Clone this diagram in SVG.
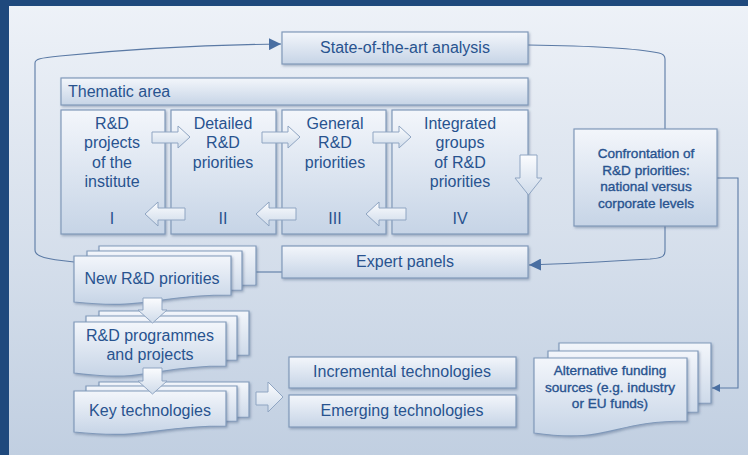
<svg xmlns="http://www.w3.org/2000/svg" width="748" height="455" viewBox="0 0 748 455">
<defs>
<linearGradient id="bg" x1="0" y1="0" x2="0" y2="1">
<stop offset="0" stop-color="#eef2f8"/>
<stop offset="1" stop-color="#c1cfe1"/>
</linearGradient>
<linearGradient id="box" x1="0" y1="0" x2="0" y2="1">
<stop offset="0" stop-color="#f3f6fb"/>
<stop offset="1" stop-color="#c6d4e6"/>
</linearGradient>
<linearGradient id="arr" x1="0" y1="0" x2="0" y2="1">
<stop offset="0" stop-color="#fbfcfe"/>
<stop offset="1" stop-color="#cfdbea"/>
</linearGradient>
<filter id="sh" x="-10%" y="-10%" width="130%" height="130%">
<feDropShadow dx="1.2" dy="1.5" stdDeviation="1" flood-color="#4d6688" flood-opacity="0.45"/>
</filter>
<marker id="ah" viewBox="0 0 10 10" refX="10" refY="5" markerWidth="12" markerHeight="12" markerUnits="userSpaceOnUse" orient="auto">
<path d="M0,0 L10,5 L0,10 Z" fill="#4a6fa2"/>
</marker>
<marker id="ahs" viewBox="0 0 10 10" refX="10" refY="5" markerWidth="8" markerHeight="8" markerUnits="userSpaceOnUse" orient="auto">
<path d="M0,0 L10,5 L0,10 Z" fill="#4a6fa2"/>
</marker>
</defs>
<style>
.bx{fill:url(#box);stroke:#8099ba;stroke-width:1.2;filter:url(#sh)}
.ar{fill:url(#arr);stroke:#8fa5c2;stroke-width:1}
.t{font-family:"Liberation Sans",Arial,sans-serif;font-size:16px;fill:#28538f}
.s{font-family:"Liberation Sans",Arial,sans-serif;font-size:13.6px;fill:#28538f;stroke:#28538f;stroke-width:0.35}
.m{text-anchor:middle}
.ln{fill:none;stroke:#5b7aa5;stroke-width:1.1}
</style>
<rect x="0" y="0" width="748" height="455" fill="url(#bg)"/>
<rect x="0" y="0" width="748" height="6" fill="#1f497d"/>
<rect x="0" y="0" width="9" height="455" fill="#1f497d"/>

<g id="connectors">
<path class="ln" d="M74,262 C46,259 35,257 35,250 V63 C35,59 40,58 60,56 C120,50 200,45 281,44" marker-end="url(#ah)"/>
<path class="ln" d="M528,45 C600,46 640,49 659,53 C664,54 665,56 665,59 V129"/>
<path class="ln" d="M665,226 V251 C665,257 661,258 650,259 C600,262 560,264 529,265" marker-end="url(#ah)"/>
<path class="ln" d="M717,178 H738 V388 H712" marker-end="url(#ahs)"/>
<path class="ln" d="M256,272 H282"/>
</g>

<g id="state-of-the-art">
<rect class="bx" x="282" y="32" width="246" height="32"/>
<text class="t m" x="405" y="53">State-of-the-art analysis</text>
</g>

<g id="thematic-area">
<rect class="bx" x="61" y="78" width="467" height="27"/>
<text class="t" x="68" y="97">Thematic area</text>
</g>

<g id="col-I">
<rect class="bx" x="61" y="110" width="104" height="124"/>
<text class="t m" x="112" y="129">R&amp;D</text>
<text class="t m" x="112" y="148.3">projects</text>
<text class="t m" x="112" y="167.6">of the</text>
<text class="t m" x="112" y="187">institute</text>
<text class="t m" x="112" y="224">I</text>
</g>

<g id="col-II">
<rect class="bx" x="171" y="110" width="105" height="124"/>
<text class="t m" x="223" y="129">Detailed</text>
<text class="t m" x="223" y="148.3">R&amp;D</text>
<text class="t m" x="223" y="167.6">priorities</text>
<text class="t m" x="223" y="224">II</text>
</g>

<g id="col-III">
<rect class="bx" x="282" y="110" width="104" height="124"/>
<text class="t m" x="335" y="129">General</text>
<text class="t m" x="335" y="148.3">R&amp;D</text>
<text class="t m" x="335" y="167.6">priorities</text>
<text class="t m" x="335" y="224">III</text>
</g>

<g id="col-IV">
<rect class="bx" x="392" y="110" width="136" height="124"/>
<text class="t m" x="460" y="129">Integrated</text>
<text class="t m" x="460" y="148.3">groups</text>
<text class="t m" x="460" y="167.6">of R&amp;D</text>
<text class="t m" x="460" y="187">priorities</text>
<text class="t m" x="460" y="224">IV</text>
</g>

<g id="block-arrows">
<path class="ar" d="M152,132 H178 V126 L190,137 L178,148 V143 H152 Z"/>
<path class="ar" d="M262,132 H288 V126 L300,137 L288,148 V143 H262 Z"/>
<path class="ar" d="M373,132 H399 V126 L411,137 L399,148 V143 H373 Z"/>
<path class="ar" d="M185,208 H158 V202 L145,214 L158,226 V220 H185 Z"/>
<path class="ar" d="M296,208 H269 V202 L256,214 L269,226 V220 H296 Z"/>
<path class="ar" d="M406,208 H379 V202 L366,214 L379,226 V220 H406 Z"/>
<path class="ar" d="M520,155 H537 V178 H542 L528.5,195 L515,178 H520 Z"/>
</g>

<g id="confrontation">
<rect class="bx" x="574" y="129" width="143" height="97"/>
<text class="s m" x="646" y="158">Confrontation of</text>
<text class="s m" x="646" y="174.5">R&amp;D priorities:</text>
<text class="s m" x="646" y="191">national versus</text>
<text class="s m" x="646" y="207.5">corporate levels</text>
</g>

<g id="expert-panels">
<rect class="bx" x="282" y="246" width="246" height="32"/>
<text class="t m" x="405" y="267">Expert panels</text>
</g>

<g id="new-priorities">
<path class="bx" d="M99,246 H256 V285 C177,285 177,300 99,292 Z"/>
<path class="bx" d="M87,251 H242 V290 C165,290 165,305 87,297 Z"/>
<path class="bx" d="M74,256 H231 V295 C152,295 152,310 74,302 Z"/>
<text class="t m" x="152" y="284">New R&amp;D priorities</text>
</g>

<g id="programmes">
<path class="bx" d="M99,311 H249 V355 C174,355 174,372 99,362 Z"/>
<path class="bx" d="M86,316 H237 V360 C161,360 161,377 86,367 Z"/>
<path class="bx" d="M74,322 H226 V366 C150,366 150,383 74,373 Z"/>
<text class="t m" x="150" y="341">R&amp;D programmes</text>
<text class="t m" x="150" y="360">and projects</text>
</g>

<g id="key-tech">
<path class="bx" d="M99,382 H249 V417 C174,417 174,431 99,423 Z"/>
<path class="bx" d="M86,386 H237 V421 C161,421 161,435 86,427 Z"/>
<path class="bx" d="M74,391 H226 V426 C150,426 150,440 74,432 Z"/>
<text class="t m" x="150" y="416">Key technologies</text>
</g>

<g id="stack-arrows">
<path class="ar" d="M143,298 H162 V310 H167 L152.5,323 L138,310 H143 Z"/>
<path class="ar" d="M143,368 H162 V381 H167 L152.5,394 L138,381 H143 Z"/>
<path class="ar" d="M256,392 H268 V382 L283,397 L268,412 V405 H256 Z"/>
</g>

<g id="incremental">
<rect class="bx" x="289" y="357" width="227" height="31"/>
<text class="t m" x="402" y="377">Incremental technologies</text>
</g>

<g id="emerging">
<rect class="bx" x="289" y="395" width="227" height="32"/>
<text class="t m" x="402" y="416">Emerging technologies</text>
</g>

<g id="alt-funding">
<path class="bx" d="M559,343 H711 V403 C635,403 635,423 559,413 Z"/>
<path class="bx" d="M548,351 H698 V412 C623,412 623,432 548,422 Z"/>
<path class="bx" d="M534,358 H687 V421 C610,421 610,444 534,433 Z"/>
<text class="s m" x="610" y="375">Alternative funding</text>
<text class="s m" x="610" y="391.5">sources (e.g. industry</text>
<text class="s m" x="610" y="407.5">or EU funds)</text>
</g>
</svg>
